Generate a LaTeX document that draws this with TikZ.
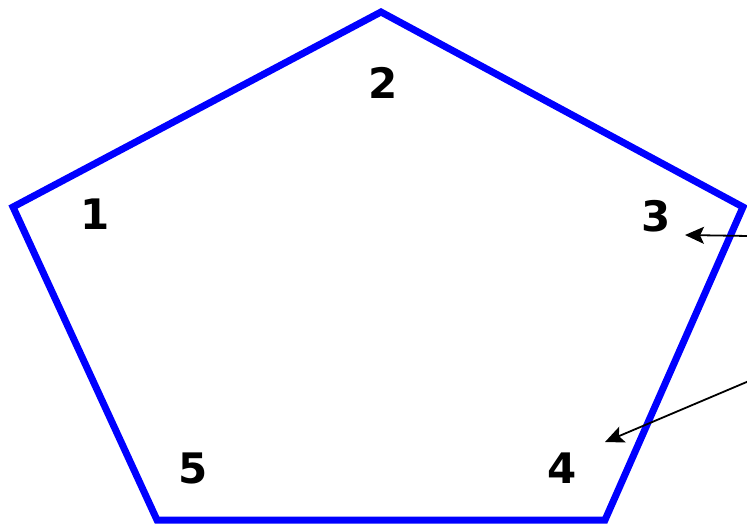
\documentclass[tikz,border=0pt]{standalone}
\usepackage{fontspec}
\setmainfont{DejaVu Sans}
\usepackage{tikz}
\usetikzlibrary{positioning,arrows.meta,calc}
\definecolor{ink}  {HTML}{000000}
\definecolor{edge} {HTML}{0000FF}
\tikzset{
  >=stealth,
  % --- nodes
  num/.style  = {font=\fontsize{42}{42}\selectfont\bfseries, text=ink, inner sep=0pt},
  % --- edges
  side/.style = {draw=edge, line width=7pt, line join=miter},
  ptr/.style  = {-{Stealth[length=19pt,width=17pt,inset=4pt]}, draw=ink, line width=1.8pt},
}
\begin{document}
\begin{tikzpicture}[x=1pt,y=-1pt]
  \useasboundingbox (0,0) rectangle (747,528);
  % corners of the pentagon
  \coordinate (c1) at (13,207);
  \coordinate (c2) at (381,12);
  \coordinate (c3) at (743,207);
  \coordinate (c4) at (605,520);
  \coordinate (c5) at (157,520);
  \draw[side] (c1) -- (c2) -- (c3) -- (c4) -- (c5) -- cycle;
  % labels
  \node[num] (n1) at (95,214) {1};
  \node[num] (n2) at (383,83) {2};
  \node[num] (n3) at (656,216) {3};
  \node[num] (n4) at (562,468) {4};
  \node[num] (n5) at (193,468) {5};
  % pointers from outside
  \coordinate (p3) at (749,236);
  \coordinate (p4) at (749,381);
  \coordinate (t3) at (685,235);
  \coordinate (t4) at (605,442);
  \draw[ptr] (p3) -- (t3);
  \draw[ptr] (p4) -- (t4);
\end{tikzpicture}
\end{document}
